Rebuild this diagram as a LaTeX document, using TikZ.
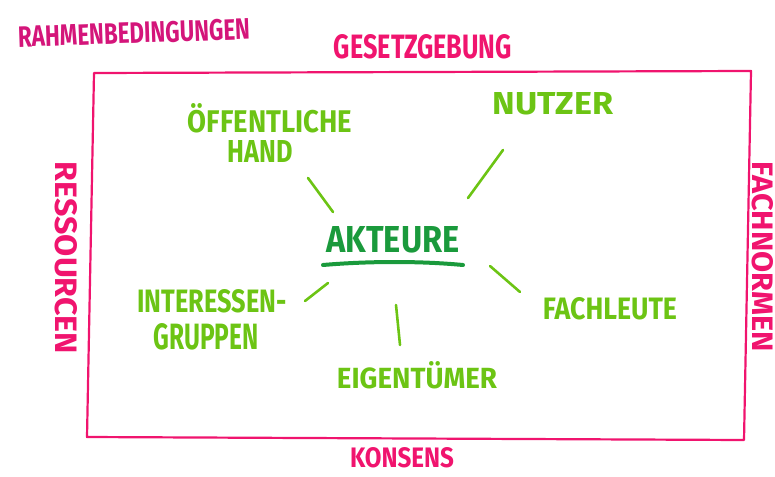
\documentclass[tikz,border=0pt]{standalone}
\usepackage{fontspec}
\setmainfont{Fira Sans}
\usepackage{graphicx}
\definecolor{framepink}{HTML}{F0146E}
\definecolor{magentared}{HTML}{D4157A}
\definecolor{limegreen}{HTML}{6CC414}
\definecolor{darkgreen}{HTML}{1A9A3C}
\newcommand{\hwtext}[3]{\resizebox{#1pt}{#2pt}{\bfseries #3}}
\tikzset{
  lbl/.style={inner sep=0pt, anchor=center},
  pinklbl/.style={lbl, text=framepink},
  greenlbl/.style={lbl, text=limegreen},
  framestroke/.style={draw=framepink, line width=2.2pt, line cap=round, line join=round},
  spoke/.style={draw=limegreen, line width=2.6pt, line cap=round},
}
\begin{document}
\begin{tikzpicture}[x=1pt,y=-1pt]
\useasboundingbox (0,0) rectangle (775,476);
% frame
\coordinate (ftl) at (94,73);
\coordinate (ftr) at (751,71);
\coordinate (fbr) at (744,440);
\coordinate (fbl) at (87,437);
\draw[framestroke] (ftl) -- (ftr) -- (fbr) -- (fbl) -- cycle;
% frame labels
\node[lbl, text=magentared, rotate=2] (rahmen) at (134,33) {\hwtext{232}{21}{RAHMENBEDINGUNGEN}};
\node[pinklbl] (gesetz) at (423,47) {\hwtext{178}{24}{GESETZGEBUNG}};
\node[pinklbl] (konsens) at (402,458) {\hwtext{104}{20}{KONSENS}};
\node[pinklbl, rotate=-90] (ress) at (66,258) {\hwtext{192}{22}{RESSOURCEN}};
\node[pinklbl, rotate=-90] (fachn) at (763,257) {\hwtext{190}{21}{FACHNORMEN}};
% centre
\node[lbl, text=darkgreen] (akteure) at (393,240) {\hwtext{133}{26}{AKTEURE}};
\coordinate (ulA) at (323,265);
\coordinate (ulB) at (463,265);
\draw[darkgreen, line width=4pt, line cap=round] (ulA) .. controls (370,261) and (420,261) .. (ulB);
% actors
\node[greenlbl] (oeff) at (270,118) {\hwtext{164}{29}{ÖFFENTLICHE}};
\node[greenlbl] (hand) at (260,151) {\hwtext{65}{22}{HAND}};
\node[greenlbl] (nutzer) at (553,104) {\hwtext{120}{22}{NUTZER}};
\node[greenlbl] (inter) at (212,301) {\hwtext{149}{23}{INTERESSEN-}};
\node[greenlbl] (gruppen) at (206,337) {\hwtext{105}{26}{GRUPPEN}};
\node[greenlbl] (fachl) at (610,309) {\hwtext{134}{22}{FACHLEUTE}};
\node[greenlbl] (eigen) at (417,375) {\hwtext{160}{27}{EIGENTÜMER}};
% spokes
\coordinate (s1a) at (308,178); \coordinate (s1b) at (333,212);
\coordinate (s2a) at (503,150); \coordinate (s2b) at (468,198);
\coordinate (s3a) at (490,266); \coordinate (s3b) at (520,292);
\coordinate (s4a) at (396,305); \coordinate (s4b) at (400,345);
\coordinate (s5a) at (328,283); \coordinate (s5b) at (305,301);
\draw[spoke] (s1a) -- (s1b);
\draw[spoke] (s2a) -- (s2b);
\draw[spoke] (s3a) -- (s3b);
\draw[spoke] (s4a) -- (s4b);
\draw[spoke] (s5a) -- (s5b);
\end{tikzpicture}
\end{document}
